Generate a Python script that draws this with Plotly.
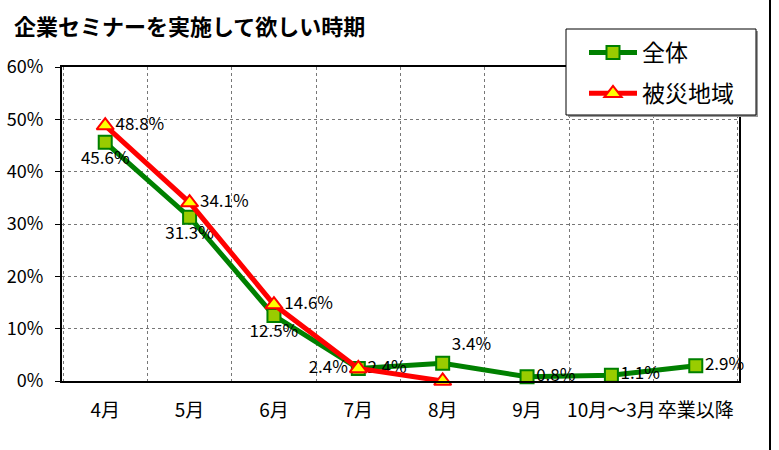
import plotly.graph_objects as go

categories = ["4月", "5月", "6月", "7月", "8月", "9月", "10月～3月", "卒業以降"]
all_values = [45.6, 31.3, 12.5, 2.4, 3.4, 0.8, 1.1, 2.9]
disaster_values = [48.8, 34.1, 14.6, 2.4, 0.0, None, None, None]
disaster_labels = ["48.8%", "34.1%", "14.6%", "2.4%", "", "", "", ""]
y_ticks = [0, 10, 20, 30, 40, 50, 60]
y_tick_labels = ["0%", "10%", "20%", "30%", "40%", "50%", "60%"]

all_labels = [f"{v:.1f}%" for v in all_values]
all_pos = ["bottom center", "bottom center", "bottom center", "middle right",
           "top right", "middle right", "middle right", "middle right"]
dis_pos = ["middle right", "middle right", "middle right", "middle left",
           "middle right", "middle right", "middle right", "middle right"]

FONT = "Noto Sans CJK JP"
W, H = 779, 450
ML, MR, MT, MB = 62, 40, 67, 69
PW, PH = W - ML - MR, H - MT - MB


def px_x(x):
    return (x - ML) / PW


def px_y(y):
    return (H - MB - y) / PH


fig = go.Figure()
fig.add_trace(go.Scatter(
    x=categories, y=all_values, name="全体", mode="lines+markers+text",
    line=dict(color="#008000", width=5),
    marker=dict(symbol="square", size=13, color="#99CC00",
                line=dict(color="#008000", width=2)),
    text=all_labels, textposition=all_pos,
    textfont=dict(family=FONT, size=17, color="black"),
    cliponaxis=False, legendgroup="a",
))
fig.add_trace(go.Scatter(
    x=categories, y=disaster_values, name="被災地域", mode="lines+markers+text",
    line=dict(color="#FF0000", width=5),
    marker=dict(symbol="triangle-up", size=15, color="#FFFF00",
                line=dict(color="#FF0000", width=2)),
    text=disaster_labels, textposition=dis_pos,
    textfont=dict(family=FONT, size=17, color="black"),
    cliponaxis=False, legendgroup="b",
))

fig.update_layout(
    width=W, height=H,
    margin=dict(l=ML, r=MR, t=MT, b=MB),
    paper_bgcolor="white", plot_bgcolor="white",
    font=dict(family=FONT, color="black"),
    title=dict(text="<b>企業セミナーを実施して欲しい時期</b>",
               x=14 / W, xref="container", xanchor="left",
               y=1 - 27 / H, yref="container", yanchor="middle",
               font=dict(family=FONT, size=22, color="black")),
    legend=dict(x=px_x(584), y=px_y(31), xanchor="left", yanchor="top",
                bgcolor="rgba(0,0,0,0)", borderwidth=0,
                font=dict(family=FONT, size=23, color="black"),
                itemwidth=48, tracegroupgap=8),
    showlegend=True,
)
fig.update_xaxes(
    type="category", tickson="boundaries", tickangle=0, automargin=False,
    showgrid=True, gridcolor="#777777", griddash="dot", gridwidth=1,
    showline=True, linecolor="black", linewidth=2, mirror=True,
    ticks="", ticklabelstandoff=11,
    tickfont=dict(family=FONT, size=19, color="black"),
)
fig.update_yaxes(
    range=[0, 60], tickmode="array", tickvals=y_ticks, ticktext=y_tick_labels,
    automargin=False,
    showgrid=True, gridcolor="#777777", griddash="dot", gridwidth=1,
    showline=True, linecolor="black", linewidth=2, mirror=True,
    ticks="outside", ticklen=5, tickcolor="black", ticklabelstandoff=8,
    zeroline=False,
    tickfont=dict(family=FONT, size=18, color="black"),
)
# legend box with slight shadow
fig.add_shape(type="rect", xref="paper", yref="paper", layer="above",
              x0=px_x(568), x1=px_x(758), y0=px_y(117), y1=px_y(31),
              fillcolor="#999999", line=dict(width=0))
fig.add_shape(type="rect", xref="paper", yref="paper", layer="above",
              x0=px_x(566), x1=px_x(756), y0=px_y(115), y1=px_y(29),
              fillcolor="white", line=dict(color="black", width=1))
# right border of chart frame
fig.add_shape(type="line", xref="paper", yref="paper",
              x0=px_x(770), x1=px_x(770), y0=px_y(H), y1=px_y(0),
              line=dict(color="black", width=2))

fig.write_html("out.html", config={"displayModeBar": False},
               post_script="document.body.style.margin='0';")
